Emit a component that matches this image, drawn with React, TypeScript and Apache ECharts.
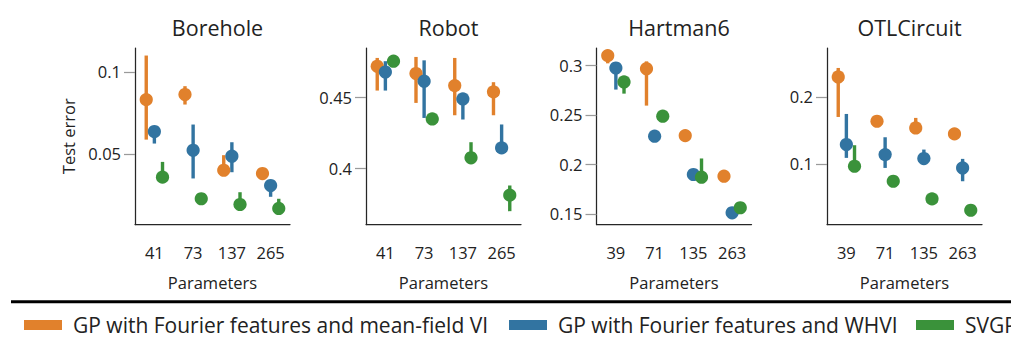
import React, { useEffect, useRef } from "react";
import * as echarts from "echarts";

// Methods and their colours
const METHODS = [
  "GP with Fourier features and mean-field VI",
  "GP with Fourier features and WHVI",
  "SVGP",
];
const COLORS = ["#E1812C", "#3274A1", "#3A923A"];

// Panels
const TITLES = ["Borehole", "Robot", "Hartman6", "OTLCircuit"];
const PARAMS_A = ["41", "73", "137", "265"];
const PARAMS_B = ["39", "71", "135", "263"];

// Each entry: [mean, low, high] per parameter count
const BOREHOLE_MF = [[0.0831, 0.0587, 0.110], [0.0862, 0.0801, 0.0913], [0.0400, 0.0390, 0.0492], [0.0380, 0.0375, 0.0385]];
const BOREHOLE_WHVI = [[0.0636, 0.0563, 0.0650], [0.0522, 0.0350, 0.0679], [0.0486, 0.0388, 0.0571], [0.0307, 0.0238, 0.0327]];
const BOREHOLE_SVGP = [[0.0358, 0.0343, 0.0451], [0.0226, 0.0222, 0.0230], [0.0191, 0.0170, 0.0266], [0.0167, 0.0150, 0.0226]];

const ROBOT_MF = [[0.4718, 0.4547, 0.4777], [0.4667, 0.4460, 0.4784], [0.4582, 0.4373, 0.4777], [0.4538, 0.4373, 0.4606]];
const ROBOT_WHVI = [[0.4678, 0.4547, 0.4754], [0.4613, 0.4354, 0.4760], [0.4488, 0.4343, 0.4507], [0.4143, 0.4131, 0.4308]];
const ROBOT_SVGP = [[0.4754, 0.4750, 0.4758], [0.4347, 0.4343, 0.4351], [0.4073, 0.4060, 0.4183], [0.3810, 0.3697, 0.3878]];

const HARTMAN_MF = [[0.3098, 0.3020, 0.3120], [0.2966, 0.2593, 0.3040], [0.2290, 0.2286, 0.2294], [0.1880, 0.1876, 0.1884]];
const HARTMAN_WHVI = [[0.2973, 0.2755, 0.2990], [0.2284, 0.2280, 0.2288], [0.1897, 0.1893, 0.1901], [0.1510, 0.1490, 0.1520]];
const HARTMAN_SVGP = [[0.2832, 0.2714, 0.2850], [0.2486, 0.2482, 0.2490], [0.1870, 0.1860, 0.2059], [0.1561, 0.1557, 0.1565]];

const OTL_MF = [[0.2299, 0.1701, 0.2433], [0.1637, 0.1633, 0.1641], [0.1537, 0.1520, 0.1687], [0.1448, 0.1444, 0.1452]];
const OTL_WHVI = [[0.1289, 0.1090, 0.1746], [0.1139, 0.0940, 0.1398], [0.1080, 0.1060, 0.1214], [0.0940, 0.0741, 0.1075]];
const OTL_SVGP = [[0.0965, 0.0950, 0.1279], [0.0741, 0.0735, 0.0747], [0.0478, 0.0474, 0.0482], [0.0308, 0.0304, 0.0312]];

// Axis ranges and tick values
const Y_MIN = [0.0069, 0.3603, 0.1392, 0.0095];
const Y_MAX = [0.1146, 0.4847, 0.3175, 0.2731];
const Y_TICKS = [[0.05, 0.1], [0.4, 0.45], [0.15, 0.2, 0.25, 0.3], [0.1, 0.2]];

const PANELS = [
  { title: TITLES[0], params: PARAMS_A, series: [BOREHOLE_MF, BOREHOLE_WHVI, BOREHOLE_SVGP] },
  { title: TITLES[1], params: PARAMS_A, series: [ROBOT_MF, ROBOT_WHVI, ROBOT_SVGP] },
  { title: TITLES[2], params: PARAMS_B, series: [HARTMAN_MF, HARTMAN_WHVI, HARTMAN_SVGP] },
  { title: TITLES[3], params: PARAMS_B, series: [OTL_MF, OTL_WHVI, OTL_SVGP] },
];

const GRID_LEFT = [135, 366, 596.5, 827];
const GRID_WIDTH = 155;
const GRID_TOP = 48;
const GRID_HEIGHT = 176.5;
const FONT = "Open Sans";
const TEXT = "#222222";

function buildOption() {
  const grid: any[] = [];
  const xAxis: any[] = [];
  const yAxis: any[] = [];
  const title: any[] = [];
  const series: any[] = [];

  PANELS.forEach((p, i) => {
    grid.push({ left: GRID_LEFT[i], top: GRID_TOP, width: GRID_WIDTH, height: GRID_HEIGHT });
    title.push({
      text: p.title,
      left: GRID_LEFT[i] + GRID_WIDTH / 2,
      top: 11,
      textAlign: "center",
      textStyle: { fontFamily: FONT, fontSize: 21.5, fontWeight: "normal", color: TEXT },
    });
    xAxis.push({
      type: "category",
      gridIndex: i,
      data: p.params,
      boundaryGap: true,
      name: "Parameters",
      nameLocation: "middle",
      nameGap: 49,
      nameTextStyle: { fontFamily: FONT, fontSize: 16.5, color: TEXT },
      axisLine: { lineStyle: { color: "#262626", width: 1.25 } },
      axisTick: { alignWithLabel: true, length: 11, lineStyle: { color: "#9a9a9a", width: 1.25 } },
      axisLabel: { margin: 19, fontFamily: FONT, fontSize: 16.5, color: TEXT },
      splitLine: { show: false },
    });
    yAxis.push({
      type: "value",
      gridIndex: i,
      min: Y_MIN[i],
      max: Y_MAX[i],
      name: i === 0 ? "Test error" : "",
      nameLocation: "middle",
      nameGap: 58,
      nameTextStyle: { fontFamily: FONT, fontSize: 16.5, color: TEXT },
      axisLine: { show: true, lineStyle: { color: "#262626", width: 1.25 } },
      axisTick: { show: true, length: 11, customValues: Y_TICKS[i], lineStyle: { color: "#9a9a9a", width: 1.25 } },
      axisLabel: { margin: 14, customValues: Y_TICKS[i], fontFamily: FONT, fontSize: 16.5, color: TEXT },
      splitLine: { show: false },
    });

    p.series.forEach((rows, m) => {
      const data = rows.map((r, k) => [k, r[0], r[1], r[2]]);
      const color = COLORS[m];
      const offset = (m - 1) * 0.21;
      // error bars
      series.push({
        type: "custom",
        name: METHODS[m],
        xAxisIndex: i,
        yAxisIndex: i,
        z: 2,
        itemStyle: { color },
        encode: { x: 0, y: [1, 2, 3] },
        data,
        renderItem: (_params: any, api: any) => {
          const cat = api.value(0);
          const band = api.size([1, 0])[0];
          const dx = offset * band;
          const lo = api.coord([cat, api.value(2)]);
          const hi = api.coord([cat, api.value(3)]);
          return {
            type: "line",
            shape: { x1: lo[0] + dx, y1: lo[1], x2: hi[0] + dx, y2: hi[1] },
            style: { stroke: color, lineWidth: 3.4, lineCap: "butt" },
          };
        },
      });
      // point estimates
      series.push({
        type: "custom",
        name: METHODS[m],
        xAxisIndex: i,
        yAxisIndex: i,
        z: 3,
        itemStyle: { color },
        encode: { x: 0, y: 1 },
        data,
        renderItem: (_params: any, api: any) => {
          const cat = api.value(0);
          const band = api.size([1, 0])[0];
          const dx = offset * band;
          const c = api.coord([cat, api.value(1)]);
          return {
            type: "circle",
            shape: { cx: c[0] + dx, cy: c[1], r: 6.6 },
            style: { fill: color },
          };
        },
      });
    });
  });

  const LEGEND_LEFT = [24, 509, 916];
  const legend = METHODS.map((name, m) => ({
    data: [{ name, itemStyle: { color: COLORS[m] } }],
    left: LEGEND_LEFT[m],
    top: 314.5,
    padding: 0,
    icon: "rect",
    itemWidth: 38,
    itemHeight: 10,
    selectedMode: false,
    textStyle: { fontFamily: FONT, fontSize: 21, color: TEXT, lineHeight: 21, padding: [0, 0, 0, 6] },
  }));

  return {
    animation: false,
    textStyle: { fontFamily: FONT },
    title,
    grid,
    xAxis,
    yAxis,
    legend,
    series,
    graphic: [
      {
        type: "line",
        shape: { x1: 11, y1: 301.7, x2: 1011, y2: 301.7 },
        style: { stroke: "#000000", lineWidth: 3 },
      },
    ],
  };
}

export default function App() {
  const ref = useRef<HTMLDivElement>(null);
  useEffect(() => {
    if (!ref.current) return;
    const chart = echarts.init(ref.current, undefined, { renderer: "svg" });
    chart.setOption(buildOption() as any);
    return () => chart.dispose();
  }, []);
  return (
    <div
      ref={ref}
      style={{ position: "fixed", left: 0, top: 0, width: 1011, height: 345, background: "#ffffff" }}
    />
  );
}
